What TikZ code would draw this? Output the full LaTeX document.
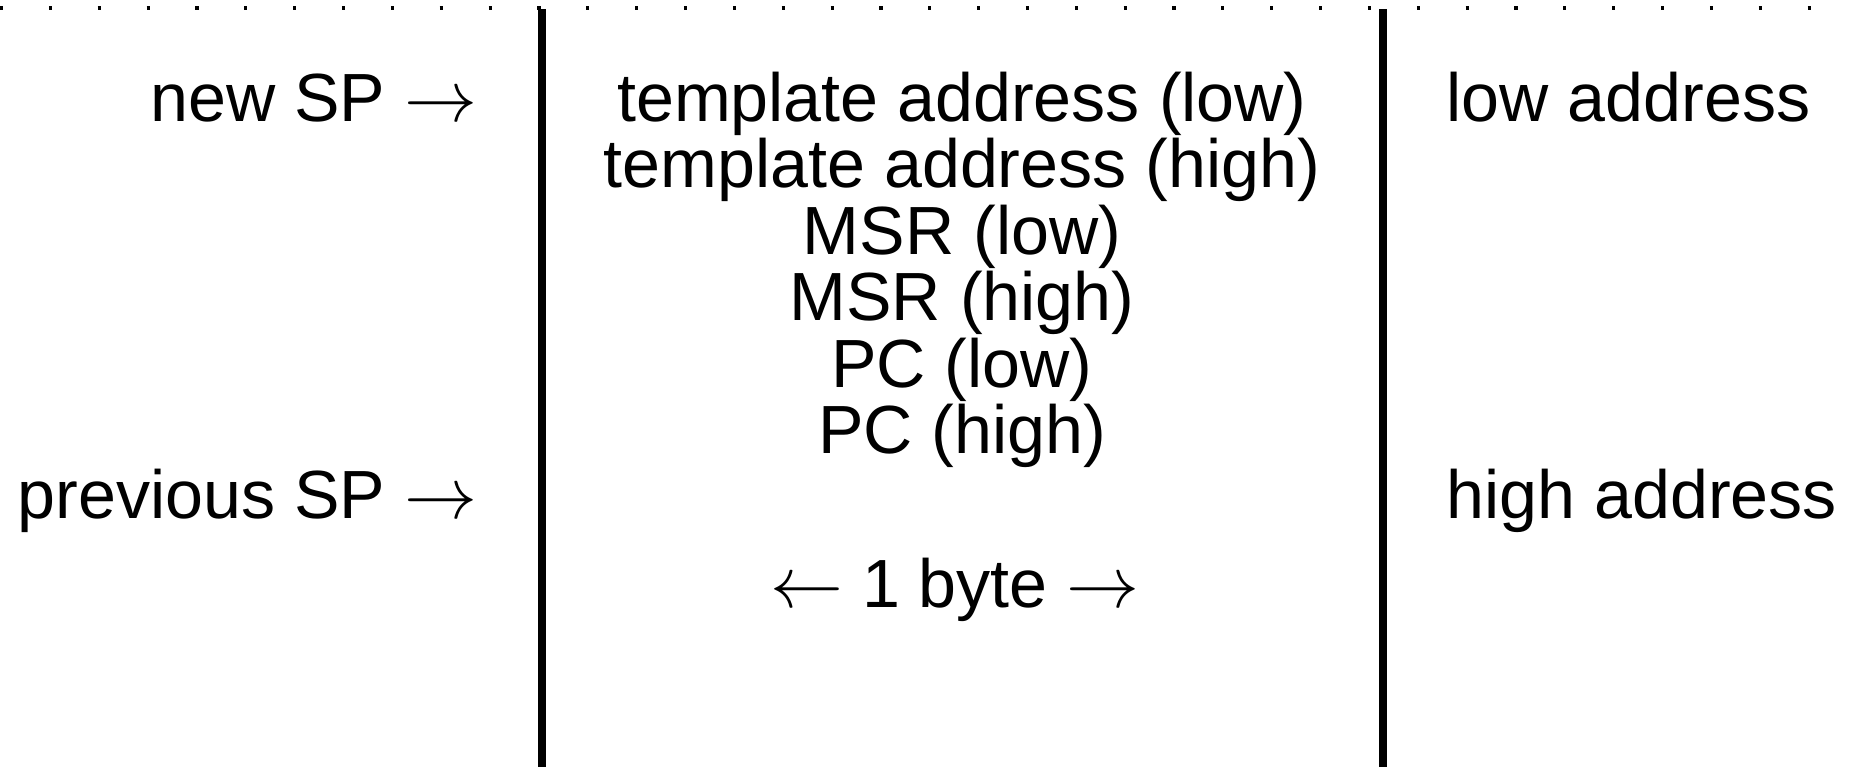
\documentclass[tikz,border=0pt]{standalone}
\usepackage{fontspec}
\setmainfont{Liberation Sans}
\usetikzlibrary{positioning}

\begin{document}
\begin{tikzpicture}[
  font=\fontsize{19.4}{19.4}\selectfont,
  node distance=0pt,
  wall/.style={line width=2.3pt},
  dotrule/.style={line width=1.4pt, dash pattern=on 0.9pt off 13pt},
  cell/.style={inner sep=0pt, minimum height=6.5mm, text height=5mm, text depth=1.5mm},
  pointer/.style={cell, anchor=east},
  side/.style={cell, anchor=west},
]
\useasboundingbox (0,0) rectangle (18.5,-7.67);

% frame of the stack
\coordinate (rulel) at (0,-0.08);
\coordinate (ruler) at (18.5,-0.08);
\coordinate (wlt) at (5.42,-0.09);
\coordinate (wlb) at (5.42,-7.67);
\coordinate (wrt) at (13.83,-0.09);
\coordinate (wrb) at (13.83,-7.67);

\draw[dotrule] (rulel) -- (ruler);
\draw[wall] (wlt) -- (wlb);
\draw[wall] (wrt) -- (wrb);

% stack contents
\node[cell] (tlo) at (9.62,-1.04) {template address (low)};
\node[cell, below=of tlo] (thi) {template address (high)};
\node[cell, below=of thi] (mlo) {MSR (low)};
\node[cell, below=of mlo] (mhi) {MSR (high)};
\node[cell, below=of mhi] (plo) {PC (low)};
\node[cell, below=of plo] (phi) {PC (high)};

\node[cell] (byte) at (9.55,-5.90) {$\leftarrow$ 1 byte $\rightarrow$};

% stack pointers
\node[pointer] (newsp) at (4.78,-1.04) {new SP $\rightarrow$};
\node[pointer] (prevsp) at ([yshift=-6.5mm]phi.center -| newsp.east) {previous SP $\rightarrow$};

% address direction
\node[side] (lowaddr) at (14.46,-1.04) {low address};
\node[side] (highaddr) at (prevsp -| lowaddr.west) {high address};

\end{tikzpicture}
\end{document}
